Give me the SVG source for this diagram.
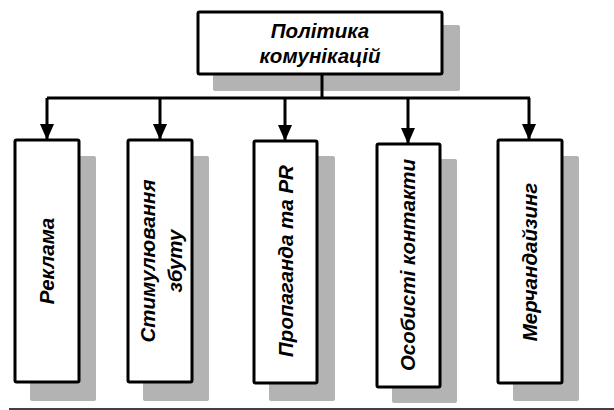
<svg xmlns="http://www.w3.org/2000/svg" width="614" height="410" viewBox="0 0 614 410">
  <style>
    .shadow { fill: #b3b3b3; }
    .box { fill: #ffffff; stroke: #000000; stroke-width: 3; }
    .wire { fill: none; stroke: #000000; stroke-width: 3; }
    .label { font-family: "Liberation Sans", Arial, sans-serif; font-weight: bold; font-style: italic; font-size: 20.5px; fill: #000000; text-anchor: middle; }
  </style>
  <defs>
    <marker id="arrow" viewBox="0 0 16 14" refX="16" refY="7" markerWidth="16" markerHeight="14" markerUnits="userSpaceOnUse" orient="auto">
      <path d="M0,0 L16,7 L0,14 Z" fill="#000000"/>
    </marker>
  </defs>
  <rect width="614" height="410" fill="#ffffff"/>

  <!-- root node -->
  <g id="node-policy">
    <rect class="shadow" x="213" y="25" width="247" height="66" rx="2"/>
    <rect class="box" x="198" y="12" width="244" height="62" rx="1.5"/>
    <text class="label" x="320" y="38">Політика</text>
    <text class="label" x="320" y="63">комунікацій</text>
  </g>

  <!-- connectors -->
  <g id="connectors">
    <polyline class="wire" points="322,74 322,98"/>
    <polyline class="wire" points="47,98 530,98"/>
    <line class="wire" x1="47" y1="98" x2="47" y2="140" marker-end="url(#arrow)"/>
    <line class="wire" x1="160" y1="98" x2="160" y2="140" marker-end="url(#arrow)"/>
    <line class="wire" x1="285" y1="98" x2="285" y2="141" marker-end="url(#arrow)"/>
    <line class="wire" x1="408" y1="98" x2="408" y2="144" marker-end="url(#arrow)"/>
    <line class="wire" x1="529" y1="98" x2="529" y2="140" marker-end="url(#arrow)"/>
  </g>

  <!-- child nodes -->
  <g id="node-advertising">
    <rect class="shadow" x="30" y="156" width="66" height="245" rx="2"/>
    <rect class="box" x="15" y="140" width="64" height="242" rx="1.5"/>
    <text class="label" transform="translate(54,261) rotate(-90)">Реклама</text>
  </g>

  <g id="node-sales-promotion">
    <rect class="shadow" x="143" y="156" width="66" height="245" rx="2"/>
    <rect class="box" x="128" y="140" width="64" height="242" rx="1.5"/>
    <text class="label" transform="translate(155,261) rotate(-90)">Стимулювання</text>
    <text class="label" transform="translate(182,261) rotate(-90)">збуту</text>
  </g>

  <g id="node-propaganda">
    <rect class="shadow" x="269" y="156" width="66" height="245" rx="2"/>
    <rect class="box" x="254" y="141" width="63" height="242" rx="1.5"/>
    <text class="label" transform="translate(293,261) rotate(-90)">Пропаганда та PR</text>
  </g>

  <g id="node-personal-contacts">
    <rect class="shadow" x="392" y="159" width="65" height="244" rx="2"/>
    <rect class="box" x="377" y="144" width="63" height="243" rx="1.5"/>
    <text class="label" transform="translate(415,265) rotate(-90)">Особисті контакти</text>
  </g>

  <g id="node-merchandising">
    <rect class="shadow" x="513" y="156" width="66" height="245" rx="2"/>
    <rect class="box" x="498" y="140" width="64" height="243" rx="1.5"/>
    <text class="label" transform="translate(537,262) rotate(-90)">Мерчандайзинг</text>
  </g>

  <!-- bottom rule -->
  <line x1="9" y1="409" x2="614" y2="409" stroke="#000000" stroke-width="1.5"/>
</svg>
